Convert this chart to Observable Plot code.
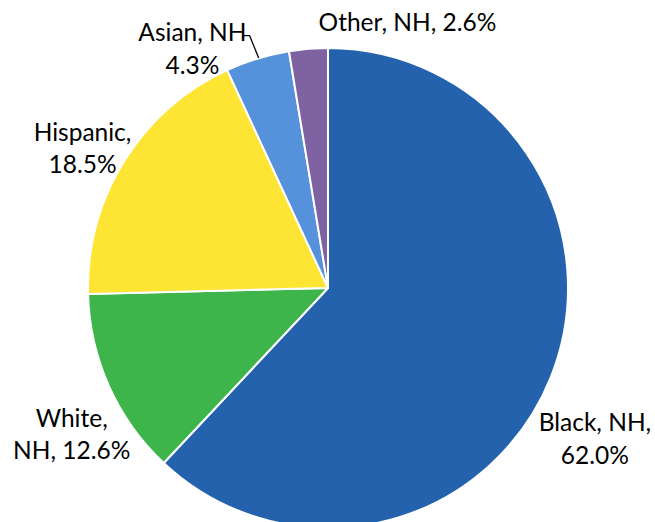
<!DOCTYPE html>
<html><head><meta charset="utf-8">
<script src="https://cdn.jsdelivr.net/npm/d3@7"></script>
<script src="https://cdn.jsdelivr.net/npm/@observablehq/plot@0.6"></script>
<style>body{margin:0;background:#fff}</style>
</head><body><div id="chart"></div>
<script>
const groups = ["Black, NH", "White, NH", "Hispanic", "Asian, NH", "Other, NH"];
const shares = [62.0, 12.6, 18.5, 4.3, 2.6];
const colors = ["#2462ad", "#3eb54a", "#fee433", "#5692dc", "#7f62a1"];
const labels = ["Black, NH,\n62.0%", "White,\nNH, 12.6%", "Hispanic,\n18.5%", "Asian, NH\n4.3%", "Other, NH, 2.6%"];

const data = groups.map((g, i) => ({group: g, value: shares[i], color: colors[i], label: labels[i]}));

// layout (in pie-radius units, centre at 0,0)
const R = 240, W = 655, H = 522, cx = 328, cy = 288;
const labelXY = [[1.110, -0.62], [-1.07, -0.60], [-1.025, 0.59], [-0.567, 1.005], [0.329, 1.117]];
const leader = [[-0.358, 1.054], [-0.329, 1.054], [-0.2917, 0.9625]];

const pieMark = (index, scales) => {
  const arcs = d3.pie().sort(null).value(d => d.value)(data);
  const x0 = scales.x(0), y0 = scales.y(0), r = scales.x(1) - scales.x(0);
  const arc = d3.arc().innerRadius(0).outerRadius(r);
  const g = d3.create("svg:g").attr("transform", `translate(${x0},${y0})`);
  g.selectAll("path").data(arcs).join("path")
    .attr("d", arc).attr("fill", d => d.data.color)
    .attr("stroke", "#fff").attr("stroke-width", 2).attr("stroke-linejoin", "round");
  return g.node();
};

const labelData = data.map((d, i) => ({...d, lx: labelXY[i][0], ly: labelXY[i][1]}));

const chart = Plot.plot({
  width: W, height: H,
  margin: 0,
  x: {domain: [-cx / R, (W - cx) / R], range: [0, W], axis: null},
  y: {domain: [-(H - cy) / R, cy / R], range: [H, 0], axis: null},
  style: {fontFamily: "Lato, 'Open Sans', sans-serif", background: "#fff"},
  marks: [
    pieMark,
    Plot.line(leader, {x: d => d[0], y: d => d[1], stroke: "#000", strokeWidth: 1.3}),
    Plot.text(labelData, {x: "lx", y: "ly", text: "label", fontSize: 24.5, fill: "#000", lineHeight: 1.32, textAnchor: "middle"})
  ]
});
document.getElementById("chart").append(chart);
</script>
</body></html>
